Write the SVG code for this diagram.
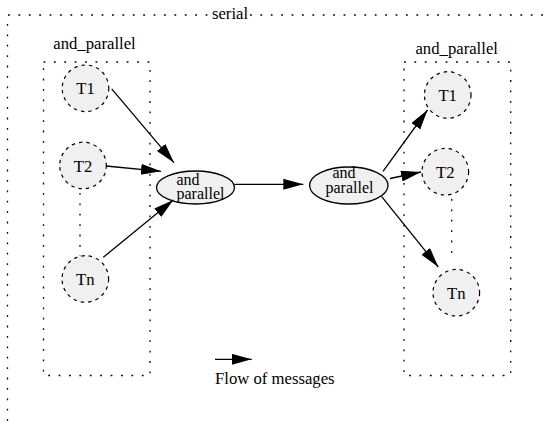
<svg xmlns="http://www.w3.org/2000/svg" width="544" height="425" viewBox="0 0 544 425" font-family="'Liberation Serif', 'Times New Roman', 'DejaVu Serif', serif">
  <style>
    text { font-family: "Liberation Serif", "Times New Roman", "DejaVu Serif", serif; font-size: 16.7px; fill: #000; }
    .mid { text-anchor: middle; }
    .inner { font-size: 16px; }
    .cluster { fill: none; stroke: #000; stroke-width: 1.3; stroke-dasharray: 1.8 8.6; }
    .task { fill: #f0f0f0; stroke: #000; stroke-width: 1.2; stroke-dasharray: 3.5 4; }
    .join { fill: #f0f0f0; stroke: #000; stroke-width: 1.3; }
    .edge { stroke: #000; stroke-width: 1.3; fill: none; marker-end: url(#arrow); }
    .guide { stroke: #000; stroke-width: 1.3; stroke-dasharray: 1.8 8.6; }
  </style>
  <defs>
    <marker id="arrow" markerUnits="userSpaceOnUse" markerWidth="21" markerHeight="12" refX="20" refY="5.5" orient="auto">
      <path d="M0,0 L20,5.5 L0,11 Z" fill="#000"/>
    </marker>
  </defs>
  <rect width="544" height="425" fill="#fff"/>

  <!-- outer serial cluster -->
  <g id="serial">
    <line class="cluster" x1="8" y1="15" x2="209" y2="15"/>
    <line class="cluster" x1="250" y1="15" x2="544" y2="15"/>
    <line class="cluster" x1="7.5" y1="24" x2="7.5" y2="425"/>
    <text x="230" y="18.5" class="mid">serial</text>
  </g>

  <!-- left and_parallel cluster -->
  <g id="cluster-left">
    <rect class="cluster" x="43.5" y="62" width="106.5" height="313.5"/>
    <text x="94.5" y="49" class="mid">and_parallel</text>
    <line class="guide" x1="80" y1="193" x2="80" y2="256"/>
  </g>

  <!-- right and_parallel cluster -->
  <g id="cluster-right">
    <rect class="cluster" x="404" y="62" width="106.7" height="313.5"/>
    <text x="456.7" y="54" class="mid">and_parallel</text>
    <line class="guide" x1="451.7" y1="199" x2="451.7" y2="260"/>
  </g>

  <g id="left-t1">
    <circle class="task" cx="85.5" cy="88.3" r="23.3"/>
    <text x="85.5" y="94" class="mid">T1</text>
  </g>
  <g id="left-t2">
    <circle class="task" cx="83" cy="165.5" r="23.3"/>
    <text x="83" y="171.5" class="mid">T2</text>
  </g>
  <g id="left-tn">
    <circle class="task" cx="85.3" cy="279" r="23.3"/>
    <text x="85.3" y="285" class="mid">Tn</text>
  </g>

  <g id="join-left">
    <ellipse class="join" cx="195.5" cy="187.5" rx="39" ry="16.5"/>
    <text x="176.5" y="185" class="inner">and</text>
    <text x="176.5" y="198.5" class="inner">parallel</text>
  </g>

  <g id="join-right">
    <ellipse class="join" cx="348.8" cy="185.5" rx="39.2" ry="18.5"/>
    <text x="344" y="177.5" class="mid inner">and</text>
    <text x="349.5" y="192.5" class="mid inner">parallel</text>
  </g>

  <g id="right-t1">
    <circle class="task" cx="447.7" cy="95" r="23.3"/>
    <text x="447.7" y="101" class="mid">T1</text>
  </g>
  <g id="right-t2">
    <circle class="task" cx="445.3" cy="171.7" r="23.3"/>
    <text x="445.3" y="177.7" class="mid">T2</text>
  </g>
  <g id="right-tn">
    <circle class="task" cx="456.3" cy="292.7" r="23.3"/>
    <text x="456.3" y="298.7" class="mid">Tn</text>
  </g>

  <g id="connectors">
    <line class="edge" x1="111.7" y1="88.8" x2="174" y2="162.7"/>
    <line class="edge" x1="106" y1="166" x2="161" y2="171.3"/>
    <line class="edge" x1="103.3" y1="257.3" x2="173.3" y2="200"/>
    <line class="edge" x1="234.5" y1="184.3" x2="303.3" y2="184.3"/>
    <line class="edge" x1="383" y1="171.3" x2="427.5" y2="110"/>
    <line class="edge" x1="390" y1="178.5" x2="421" y2="172"/>
    <line class="edge" x1="381.7" y1="196.7" x2="438.3" y2="267"/>
  </g>

  <!-- legend -->
  <g id="legend">
    <line class="edge" x1="215" y1="359.3" x2="251.7" y2="359.3"/>
    <text x="215" y="384.3">Flow of messages</text>
  </g>
</svg>
